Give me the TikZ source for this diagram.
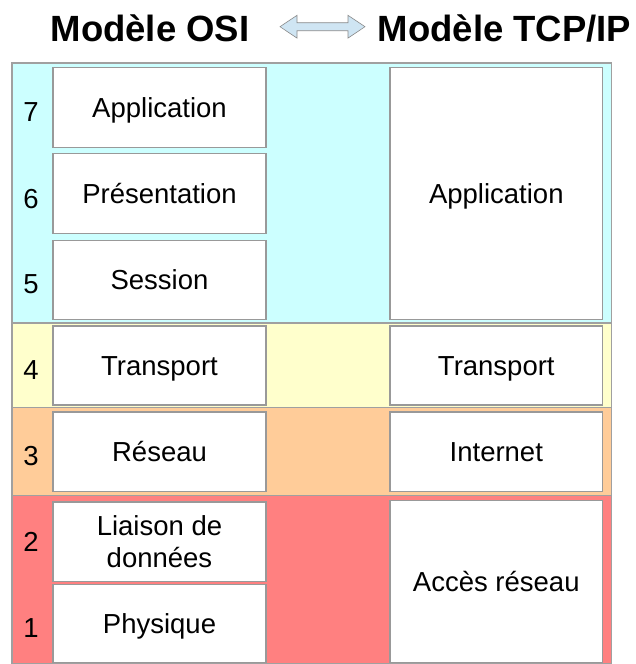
\documentclass[tikz,border=0pt]{standalone}
\usepackage{fontspec}
\setmainfont{Liberation Sans}
\definecolor{bandblue}{HTML}{CCFFFF}
\definecolor{bandyellow}{HTML}{FFFFCC}
\definecolor{bandorange}{HTML}{FFCC99}
\definecolor{bandred}{HTML}{FF8080}
\definecolor{bandline}{HTML}{A0A0A0}
\definecolor{boxline}{HTML}{999999}
\definecolor{arrowfill}{HTML}{CFE5F3}
\definecolor{arrowline}{HTML}{8A8A8A}
\begin{document}
\begin{tikzpicture}[x=1pt,y=-1pt,
  band/.style={draw=bandline, line width=1.3pt},
  layerbox/.style={draw=boxline, fill=white, line width=1.1pt, inner sep=0pt,
    font=\fontsize{27.5}{32}\selectfont, align=center,
    text height=19.7pt, text depth=0pt},
  osibox/.style={layerbox, minimum width=213pt},
  tcpbox/.style={layerbox, minimum width=212.7pt},
  num/.style={inner sep=0pt, font=\fontsize{27.5}{32}\selectfont,
    text height=19.7pt, text depth=0pt},
  titlestyle/.style={inner sep=0pt, anchor=base, font=\fontsize{36.5}{40}\selectfont\bfseries}
]
\useasboundingbox (0,0) rectangle (635,664);
% bands
\draw[band, fill=bandblue]   (12,63)    rectangle (611.5,323);
\draw[band, fill=bandyellow] (12,323)   rectangle (611.5,407.7);
\draw[band, fill=bandorange] (12,407.7) rectangle (611.5,495.7);
\draw[band, fill=bandred]    (12,495.7) rectangle (611.5,663.5);

% titles
\node[titlestyle] (tosi) at (150,41) {Modèle OSI};
\node[titlestyle] (ttcp) at (504.5,41) {Modèle TCP/IP};
\draw[fill=arrowfill, draw=arrowline, line width=0.6pt, line join=miter]
  (280,26.7) -- (297,15.3) -- (297,22.7) -- (348,22.7) -- (348,15.3) -- (365,26.7)
  -- (348,38.1) -- (348,30.7) -- (297,30.7) -- (297,38.1) -- cycle;

% OSI boxes
\node[osibox, minimum height=79.6pt] (o7) at (159.5,107.5) {Application};
\node[osibox, minimum height=79.6pt] (o6) at (159.5,193.5) {Présentation};
\node[osibox, minimum height=79.3pt] (o5) at (159.5,279.7) {Session};
\node[osibox, minimum height=79pt]   (o4) at (159.5,365.5) {Transport};
\node[osibox, minimum height=79.7pt] (o3) at (159.5,451.8) {Réseau};
\node[osibox, minimum height=79.7pt, text height=, text depth=] (o2) at (159.5,541.8) {Liaison de\\données};
\node[osibox, minimum height=77.8pt] (o1) at (159.5,623.4) {Physique};

% TCP/IP boxes
\node[tcpbox, minimum height=251.6pt] (tapp) at (496.3,193.5) {Application};
\node[tcpbox, minimum height=79pt]    (ttra) at (496.3,365.5) {Transport};
\node[tcpbox, minimum height=79.7pt]  (tint) at (496.3,451.8) {Internet};
\node[tcpbox, minimum height=161.6pt] (tacc) at (496.3,581.5) {Accès réseau};

% layer numbers
\node[num] (n7) at (31,112) {7};
\node[num] (n6) at (31,198.5) {6};
\node[num] (n5) at (31,283.5) {5};
\node[num] (n4) at (31,369.5) {4};
\node[num] (n3) at (31,455.5) {3};
\node[num] (n2) at (31,541.5) {2};
\node[num] (n1) at (31,627.5) {1};
\end{tikzpicture}
\end{document}
